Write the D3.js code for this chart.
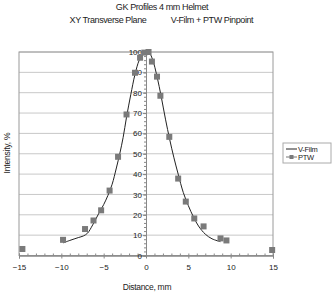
<!DOCTYPE html>
<html>
<head>
<meta charset="utf-8">
<script src="https://cdn.jsdelivr.net/npm/d3@7"></script>
<style>
body{margin:0;background:#fff;}
text{font-family:"Liberation Sans",Arial,sans-serif;fill:#222;}
</style>
</head>
<body>
<div id="chart"></div>
<script>
// PTW pinpoint measurements (distance mm, intensity %)
var ptwX = [-14.6,-9.8,-7.2,-6.2,-5.3,-4.3,-3.3,-2.3,-1.3,-0.7,-0.2,0.3,0.7,1.3,1.7,2.75,3.8,4.7,5.7,6.8,8.8,9.5,14.9];
var ptwY = [3.2,7.7,13,17.2,22.2,31.9,48.5,69.3,89.8,97.2,99.7,100,95.3,87.9,78.5,58.3,37.8,26.5,18.2,14.3,8.4,7.4,2.7];
// V-Film profile
var filmX = [-9.8,-9,-8,-7.4,-6.9,-6.3,-5.6,-5,-4.5,-4,-3.5,-3.1,-2.7,-2.3,-1.8,-1.3,-0.8,-0.3,0,0.4,0.8,1.3,1.8,2.3,2.8,3.3,3.8,4.4,5,5.6,6.2,7,7.8,8.8];
var filmY = [6.2,7.4,8.8,9.6,11,15,20.5,25,29.5,35,43,50,58,68,79,89,96,99.5,100,99.5,96,88,78,67,57,48,40,31,24.5,19,14.5,10.5,8.2,6.8];
var xTicks = [-15,-10,-5,0,5,10,15];
var yTicks = [0,10,20,30,40,50,60,70,80,90,100];

var margin = {top: 52, right: 59, bottom: 39, left: 19},
    width = 273 - margin.left,
    height = 255.5 - margin.top;

var svg = d3.select("#chart").append("svg")
    .attr("width", 332).attr("height", 294);

var g = svg.append("g")
    .attr("transform", "translate(" + margin.left + "," + margin.top + ")");

var x = d3.scaleLinear().domain([-15,15]).range([0,width]);
var y = d3.scaleLinear().domain([0,100]).range([height,0]);

// gridlines
g.selectAll(".grid").data(yTicks.slice(1)).enter().append("line")
    .attr("x1",0).attr("x2",width)
    .attr("y1",function(d){return y(d);}).attr("y2",function(d){return y(d);})
    .style("stroke","#c8c8c8").style("stroke-width","1px");

// plot border
g.append("rect").attr("x",0).attr("y",0).attr("width",width).attr("height",height)
    .style("fill","none").style("stroke","#9a9a9a").style("stroke-width","1px");

// x axis
var xAxis = g.append("g")
    .attr("transform","translate(0," + height + ")")
    .call(d3.axisBottom(x).tickValues(xTicks).tickSize(3).tickPadding(6));
xAxis.selectAll("text").style("font-size","8px");
var xMinor = g.append("g")
    .attr("transform","translate(0," + height + ")")
    .call(d3.axisBottom(x).ticks(30).tickSize(-2).tickFormat(""));
[xAxis, xMinor].forEach(function(a){
  a.select(".domain").style("stroke","#888");
  a.selectAll(".tick line").style("stroke","#888");
});

// y axis at x = 0
var yAxis = g.append("g")
    .attr("transform","translate(" + x(0) + ",0)")
    .call(d3.axisLeft(y).tickValues(yTicks).tickSize(3).tickPadding(1));
yAxis.selectAll("text").style("font-size","8px");
var yMinor = g.append("g")
    .attr("transform","translate(" + x(0) + ",0)")
    .call(d3.axisLeft(y).ticks(50).tickSize(2).tickFormat(""));
[yAxis, yMinor].forEach(function(a){
  a.select(".domain").style("stroke","#888");
  a.selectAll(".tick line").style("stroke","#888");
});

// V-Film line
var line = d3.line().curve(d3.curveCatmullRom)
    .x(function(d){return x(d[0]);}).y(function(d){return y(d[1]);});
g.append("path")
    .datum(d3.zip(filmX, filmY))
    .attr("d", line)
    .style("fill","none").style("stroke","#222").style("stroke-width","1px");

// PTW markers
g.selectAll(".ptw").data(d3.zip(ptwX, ptwY)).enter().append("rect")
    .attr("x",function(d){return x(d[0])-3;})
    .attr("y",function(d){return y(d[1])-3;})
    .attr("width",6).attr("height",6)
    .style("fill","#7a7a7a");

// titles
svg.append("text").attr("x",162).attr("y",10).attr("text-anchor","middle")
    .style("font-size","9px").style("letter-spacing","-0.4px").text("GK Profiles 4 mm Helmet");
svg.append("text").attr("x",108).attr("y",23).attr("text-anchor","middle")
    .style("font-size","9px").style("letter-spacing","-0.4px").text("XY Transverse Plane");
svg.append("text").attr("x",212).attr("y",23).attr("text-anchor","middle")
    .style("font-size","9px").style("letter-spacing","-0.4px").text("V-Film + PTW Pinpoint");

// axis titles
svg.append("text").attr("x",147).attr("y",290).attr("text-anchor","middle")
    .style("font-size","8.5px").style("letter-spacing","-0.3px").text("Distance, mm");
svg.append("text").attr("transform","translate(10,153) rotate(-90)").attr("text-anchor","middle")
    .style("font-size","8.5px").style("letter-spacing","-0.2px").text("Intensity, %");

// legend
var lg = svg.append("g").attr("transform","translate(283,143)");
lg.append("rect").attr("width",48).attr("height",20)
    .style("fill","#fff").style("stroke","#aaa");
lg.append("line").attr("x1",3).attr("x2",14).attr("y1",6).attr("y2",6)
    .style("stroke","#222");
lg.append("text").attr("x",15).attr("y",9).style("font-size","7.5px").style("letter-spacing","-0.3px").text("V-Film");
lg.append("line").attr("x1",3).attr("x2",14).attr("y1",14).attr("y2",14)
    .style("stroke","#777");
lg.append("rect").attr("x",6.5).attr("y",12).attr("width",4).attr("height",4).style("fill","#7a7a7a");
lg.append("text").attr("x",15).attr("y",17).style("font-size","7.5px").style("letter-spacing","-0.3px").text("PTW");
</script>
</body>
</html>
